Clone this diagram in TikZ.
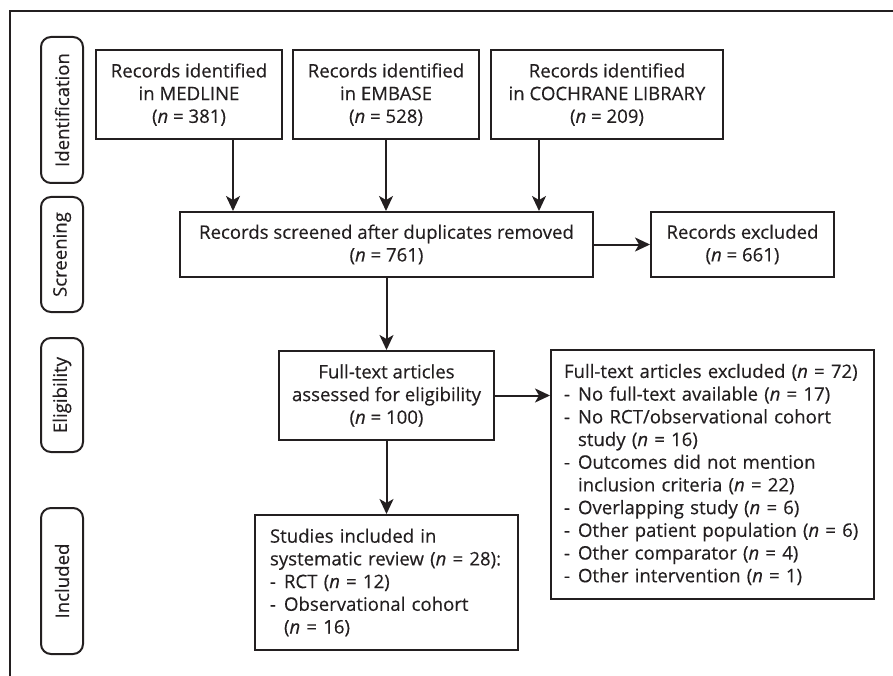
\documentclass[tikz,border=0pt]{standalone}
\usepackage{fontspec}
\setmainfont{Open Sans}[FakeBold=0.3, ItalicFeatures={FakeBold=0.3}]
\usetikzlibrary{arrows.meta,positioning,calc}
\definecolor{ink}{HTML}{231F20}
\newcommand{\nn}{\textit{n}}
\newcommand{\dsh}{\makebox[14pt][l]{-}}
\newcommand{\ind}{\hspace*{14pt}}
\begin{document}
\begin{tikzpicture}[x=1pt,y=-1pt,
  every node/.style={font=\fontsize{18.6}{22.7}\selectfont, text=ink},
  box/.style={draw=ink, line width=2pt, inner sep=0pt, align=center},
  lbox/.style={draw=ink, line width=2pt, inner ysep=0pt, align=left},
  pill/.style={draw=ink, line width=2pt, rounded corners=10pt, rotate=90, minimum height=42pt, inner sep=0pt},
  arr/.style={draw=ink, line width=2pt, -{Stealth[length=15pt,width=14pt,inset=4pt]}}]
\useasboundingbox (0,0) rectangle (893,676);
\draw[ink, line width=1.4pt] (10,676) -- (10,11) -- (893,11);

% stage pills
\node[pill, minimum width=146pt] (pid) at (62,110) {Identification};
\node[pill, minimum width=115pt] (psc) at (62,254.5) {Screening};
\node[pill, minimum width=114pt] (pel) at (62,395) {Eligibility};
\node[pill, minimum width=146pt] (pin) at (62,581) {Included};

% boxes
\node[box, minimum width=186pt, minimum height=89pt] (med) at (189,94.5)
  {Records identified\\in MEDLINE\\(\nn{} = 381)};
\node[box, minimum width=186pt, minimum height=89pt] (emb) at (386,94.5)
  {Records identified\\in EMBASE\\(\nn{} = 528)};
\node[box, minimum width=232pt, minimum height=89pt] (coch) at (607,94.5)
  {Records identified\\in COCHRANE LIBRARY\\(\nn{} = 209)};
\node[box, minimum width=413pt, minimum height=65pt] (scr) at (386.5,244.5)
  {Records screened after duplicates removed\\(\nn{} = 761)};
\node[box, minimum width=183pt, minimum height=65pt] (rex) at (742.5,244.5)
  {Records excluded\\(\nn{} = 661)};
\node[box, minimum width=215pt, minimum height=89pt] (ft) at (386.5,395.5)
  {Full-text articles\\assessed for eligibility\\(\nn{} = 100)};
\node[lbox, inner xsep=13pt, minimum height=249pt, text width=297pt] (fex) at (712.5,474.5)
  {Full-text articles excluded (\nn{} = 72)\\
   \dsh No full-text available (\nn{} = 17)\\
   \dsh No RCT/observational cohort\\
   \ind study (\nn{} = 16)\\
   \dsh Outcomes did not mention\\
   \ind inclusion criteria (\nn{} = 22)\\
   \dsh Overlapping study (\nn{} = 6)\\
   \dsh Other patient population (\nn{} = 6)\\
   \dsh Other comparator (\nn{} = 4)\\
   \dsh Other intervention (\nn{} = 1)};
\node[lbox, inner xsep=15pt, minimum height=135pt, text width=233pt] (inc) at (386.5,582.5)
  {Studies included in\\
   systematic review (\nn{} = 28):\\
   \dsh RCT (\nn{} = 12)\\
   \dsh Observational cohort\\
   \ind (\nn{} = 16)};

% connectors
\draw[arr] ([xshift=44pt]med.south) -- ([xshift=44pt]med.south |- scr.north);
\draw[arr] (emb.south) -- (emb.south |- scr.north);
\draw[arr] ([xshift=-68pt]coch.south) -- ([xshift=-68pt]coch.south |- scr.north);
\draw[arr] (scr.east) -- (rex.west);
\draw[arr] (scr.south) -- (ft.north);
\draw[arr] (ft.east) -- (ft.east -| fex.west);
\draw[arr] (ft.south) -- (inc.north);
\end{tikzpicture}
\end{document}
